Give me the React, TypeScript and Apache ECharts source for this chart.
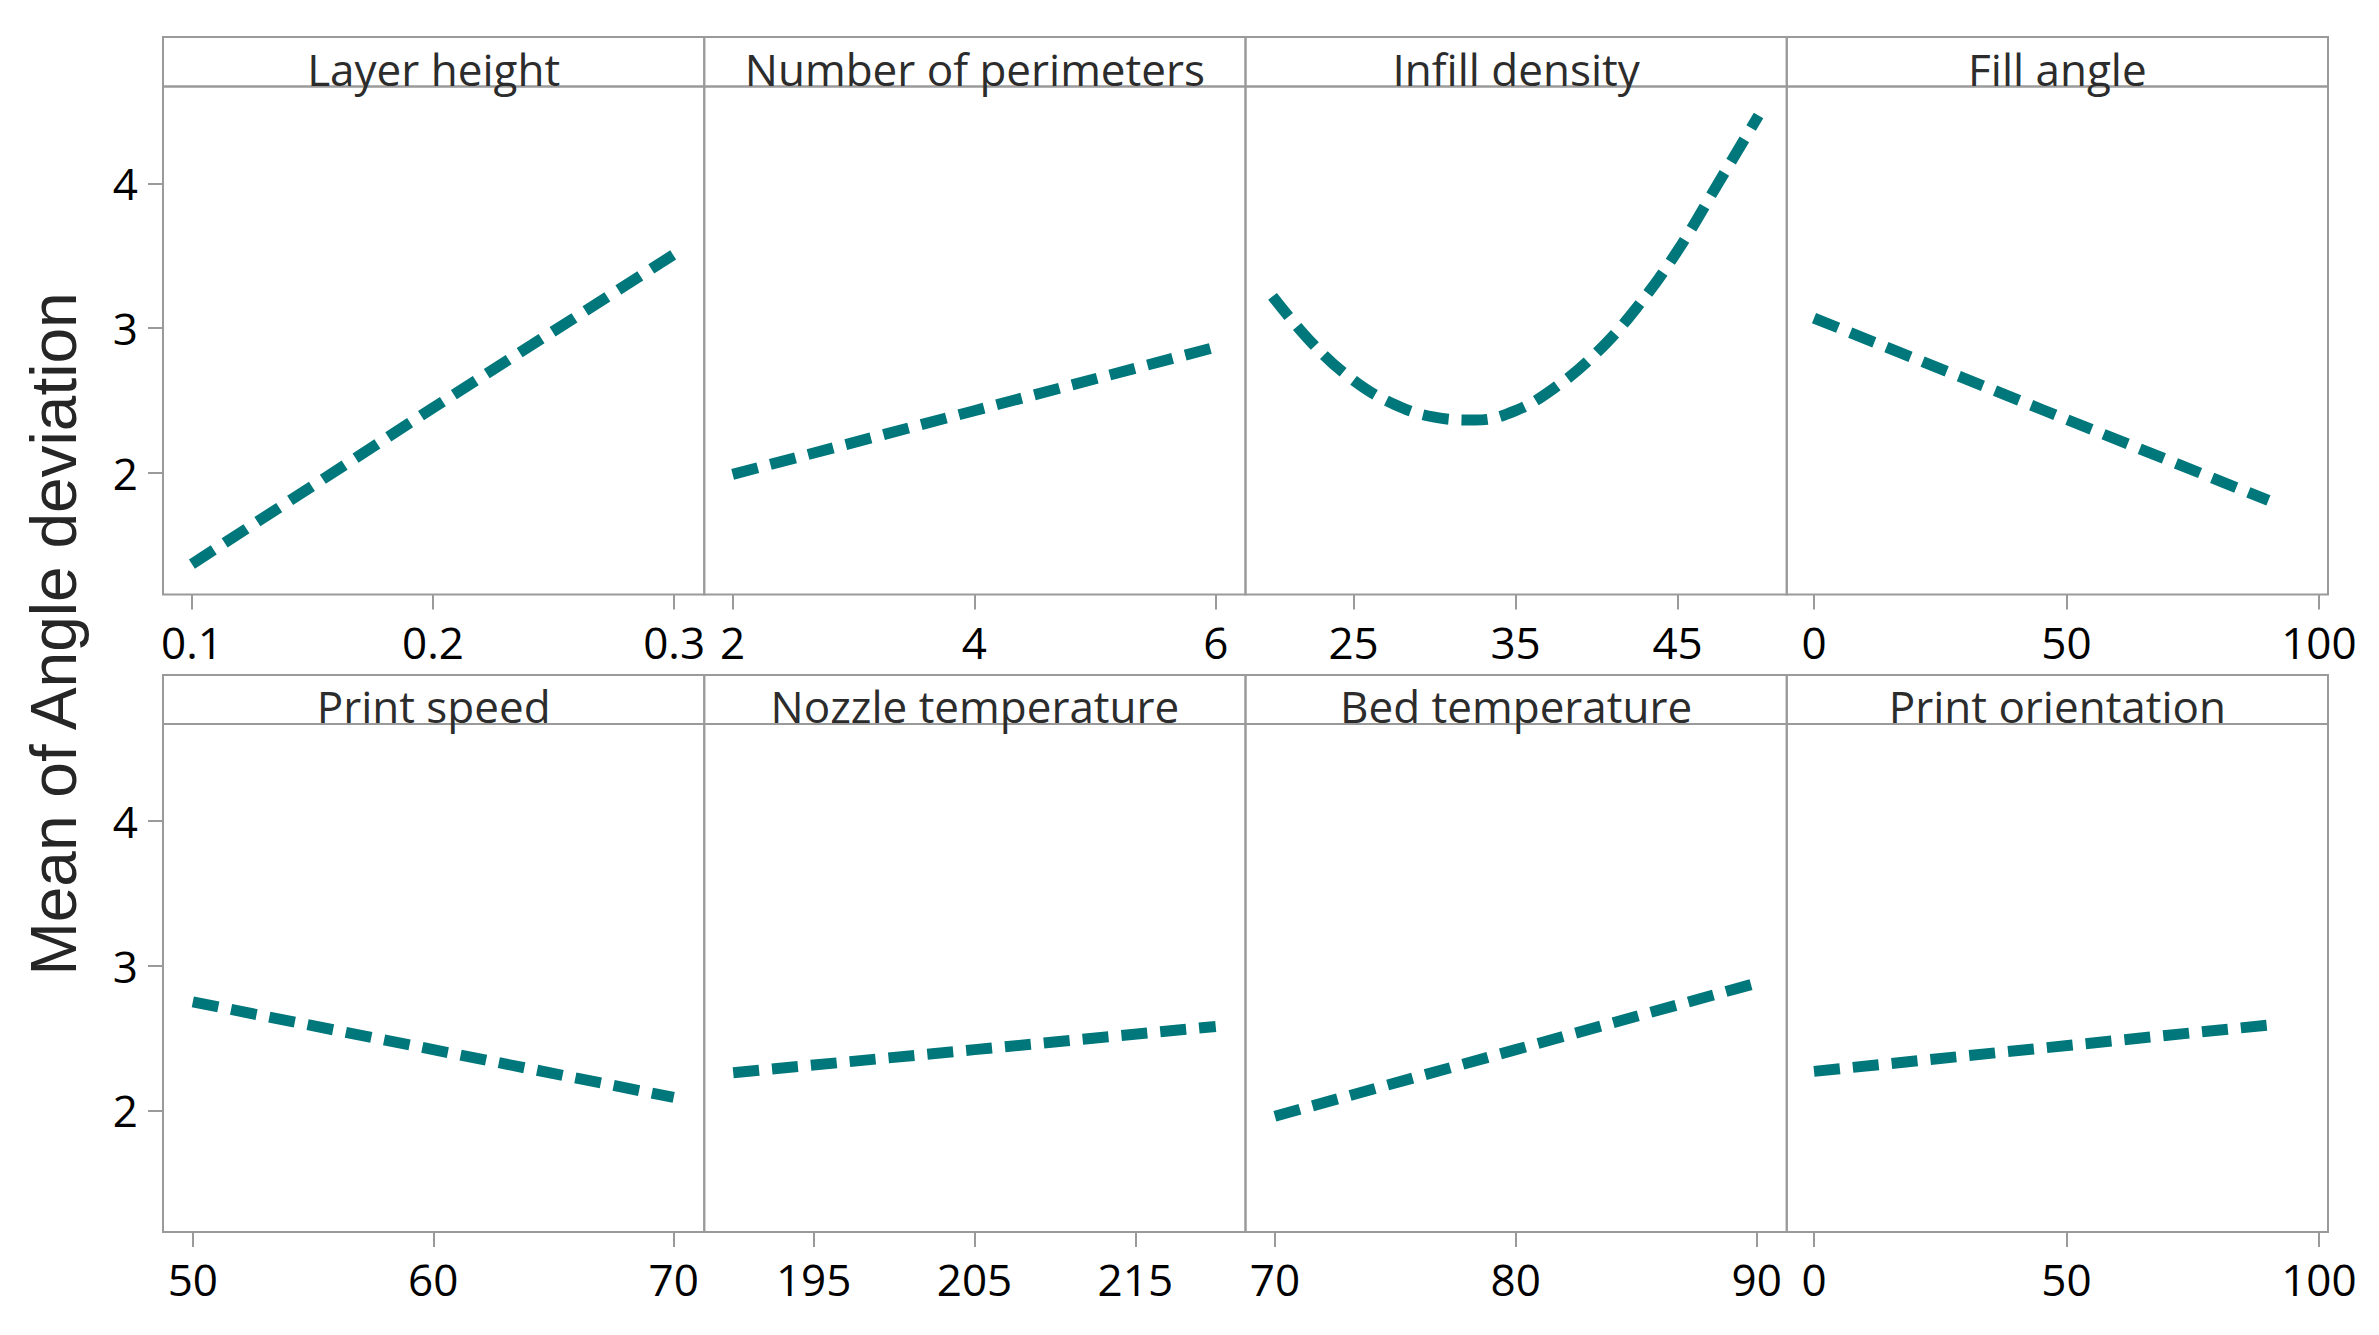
import React, { useEffect, useRef } from "react";
import * as echarts from "echarts";

// ---- data ----
const panelNames = [
  "Layer height",
  "Number of perimeters",
  "Infill density",
  "Fill angle",
  "Print speed",
  "Nozzle temperature",
  "Bed temperature",
  "Print orientation",
];

const layerHeightX = [0.1, 0.2, 0.3];
const layerHeightY = [1.37, 2.45, 3.51];

const perimetersX = [2, 4, 6];
const perimetersY = [1.99, 2.43, 2.87];

const infillX = [20, 22.5, 25, 27.5, 30, 32.5, 35, 37.5, 40, 42.5, 45, 47.5, 50];
const infillY = [3.22, 2.89, 2.64, 2.475, 2.385, 2.365, 2.43, 2.595, 2.83, 3.145, 3.535, 4.0, 4.47];

const fillAngleX = [0, 45, 90];
const fillAngleY = [3.07, 2.44, 1.81];

const printSpeedX = [50, 60, 70];
const printSpeedY = [2.75, 2.42, 2.09];

const nozzleX = [190, 205, 220];
const nozzleY = [2.26, 2.42, 2.58];

const bedX = [70, 80, 90];
const bedY = [1.96, 2.42, 2.88];

const orientationX = [0, 45, 90];
const orientationY = [2.27, 2.43, 2.59];

const layerTicks = [0.1, 0.2, 0.3];
const perimeterTicks = [2, 4, 6];
const infillTicks = [25, 35, 45];
const fillAngleTicks = [0, 50, 100];
const printSpeedTicks = [50, 60, 70];
const nozzleTicks = [195, 205, 215];
const bedTicks = [70, 80, 90];
const orientationTicks = [0, 50, 100];
const yTicks = [2, 3, 4];

const xRanges = [
  [0.088, 0.3125],
  [1.765, 6.245],
  [18.33, 51.74],
  [-5.4, 101.8],
  [48.76, 71.27],
  [188.2, 221.85],
  [68.78, 91.25],
  [-5.4, 101.8],
];
const yRange = [1.16, 4.67];

const xSeries = [layerHeightX, perimetersX, infillX, fillAngleX, printSpeedX, nozzleX, bedX, orientationX];
const ySeries = [layerHeightY, perimetersY, infillY, fillAngleY, printSpeedY, nozzleY, bedY, orientationY];
const xTicks = [layerTicks, perimeterTicks, infillTicks, fillAngleTicks, printSpeedTicks, nozzleTicks, bedTicks, orientationTicks];

// ---- layout ----
const W = 2379;
const H = 1335;
const PANEL_LEFT = 163;
const PANEL_W = 541.25;
const HEADER_TOP = [37, 675];
const PLOT_TOP = [86.5, 724];
const PLOT_H = 508;
const GRAY = "#9a9a9a";
const TEAL = "#00777a";
const FONT = "'Open Sans', 'Noto Sans', sans-serif";

function buildOption() {
  const grid: any[] = [];
  const xAxis: any[] = [];
  const yAxis: any[] = [];
  const series: any[] = [];
  const graphic: any[] = [];

  for (let i = 0; i < 8; i++) {
    const row = Math.floor(i / 4);
    const col = i % 4;
    const left = PANEL_LEFT + col * PANEL_W;
    grid.push({
      left,
      top: PLOT_TOP[row],
      width: PANEL_W,
      height: PLOT_H,
      show: true,
      borderColor: GRAY,
      borderWidth: 2,
      backgroundColor: "transparent",
    });
    xAxis.push({
      type: "value",
      gridIndex: i,
      min: xRanges[i][0],
      max: xRanges[i][1],
      axisLine: { show: false },
      splitLine: { show: false },
      axisTick: {
        show: true,
        length: 15,
        lineStyle: { color: GRAY, width: 2 },
        customValues: xTicks[i],
      },
      axisLabel: {
        show: true,
        margin: 25,
        fontSize: 44,
        fontFamily: FONT,
        color: "#000",
        customValues: xTicks[i],
        formatter: (v: number) => String(v),
      },
    });
    yAxis.push({
      type: "value",
      gridIndex: i,
      min: yRange[0],
      max: yRange[1],
      axisLine: { show: false },
      splitLine: { show: false },
      axisTick: {
        show: col === 0,
        length: 15,
        lineStyle: { color: GRAY, width: 2 },
        customValues: yTicks,
      },
      axisLabel: {
        show: col === 0,
        margin: 25,
        fontSize: 44,
        fontFamily: FONT,
        color: "#000",
        customValues: yTicks,
      },
    });
    series.push({
      type: "line",
      xAxisIndex: i,
      yAxisIndex: i,
      data: xSeries[i].map((x, k) => [x, ySeries[i][k]]),
      showSymbol: false,
      symbol: "none",
      smooth: i === 2 ? 0.4 : false,
      lineStyle: { color: TEAL, width: 11, type: [26, 13], cap: "butt" },
      silent: true,
    });
    graphic.push({
      type: "rect",
      shape: { x: left, y: HEADER_TOP[row], width: PANEL_W, height: PLOT_TOP[row] - HEADER_TOP[row] },
      style: { fill: "none", stroke: GRAY, lineWidth: 2 },
      z: 10,
    });
    graphic.push({
      type: "text",
      x: left + PANEL_W / 2,
      y: PLOT_TOP[row] - 18,
      style: {
        text: panelNames[i],
        font: `44px ${FONT}`,
        fill: "#2c2c2c",
        align: "center",
        verticalAlign: "middle",
      },
      z: 11,
    });
  }

  graphic.push({
    type: "text",
    x: 54,
    y: 634,
    rotation: Math.PI / 2,
    style: {
      text: "Mean of Angle deviation",
      font: "64px 'Liberation Sans', Arial, sans-serif",
      fill: "#262626",
      align: "center",
      verticalAlign: "middle",
    },
    z: 11,
  });

  return {
    animation: false,
    backgroundColor: "#ffffff",
    grid,
    xAxis,
    yAxis,
    series,
    graphic,
  };
}

export default function App() {
  const ref = useRef<HTMLDivElement>(null);
  useEffect(() => {
    if (!ref.current) return;
    const chart = echarts.init(ref.current, null, { renderer: "svg" });
    chart.setOption(buildOption() as any);
    return () => chart.dispose();
  }, []);
  return (
    <div
      ref={ref}
      style={{ position: "fixed", left: 0, top: 0, width: W, height: H, background: "#fff" }}
    />
  );
}
